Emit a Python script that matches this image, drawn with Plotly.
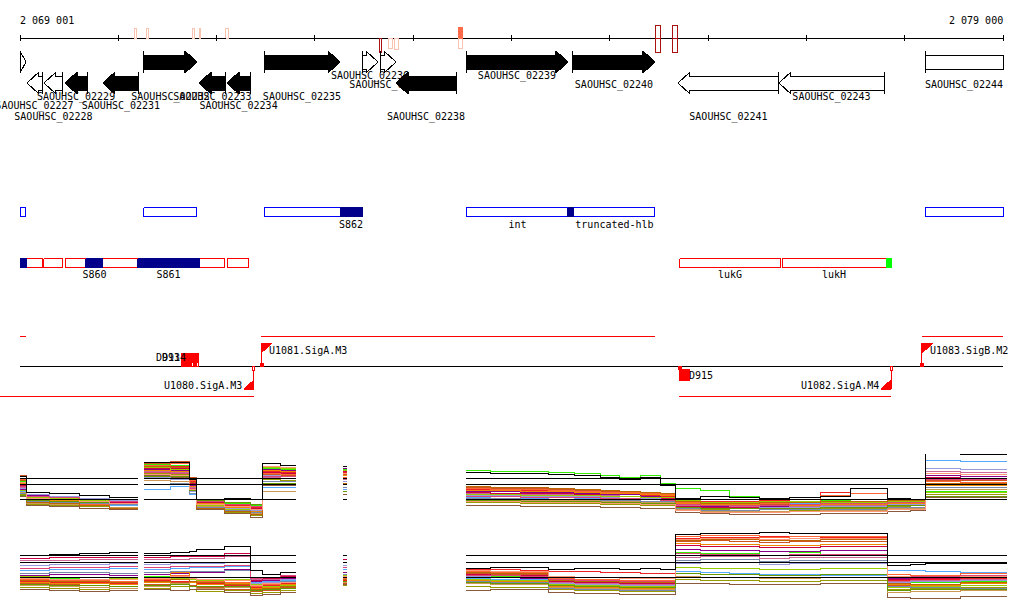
import plotly.graph_objects as go

# ---------------- view / scale ----------------
VIEW_START = 2069001
VIEW_END = 2079000
BP_PER_PX = (VIEW_END - VIEW_START) / 983.0
X_MIN = VIEW_START - 20 * BP_PER_PX
X_MAX = VIEW_START + 1004 * BP_PER_PX

AXIS_TICKS = [2069001, 2070000, 2071000, 2072000, 2073000, 2074000,
              2075000, 2076000, 2077000, 2078000, 2079000]
AXIS_LABELS = ["2 069 001", "2 079 000"]

# ---------------- genes ----------------
gene_name = ["", "SAOUHSC_02227", "SAOUHSC_02228", "SAOUHSC_02229", "SAOUHSC_02231",
             "SAOUHSC_02232", "SAOUHSC_02233", "SAOUHSC_02234", "SAOUHSC_02235",
             "SAOUHSC_02236", "SAOUHSC_02237", "SAOUHSC_02238", "SAOUHSC_02239",
             "SAOUHSC_02240", "SAOUHSC_02241", "SAOUHSC_02243", "SAOUHSC_02244"]
gene_start = [2069001, 2069072, 2069245, 2069459, 2069845, 2070262, 2070822, 2071107,
              2071483, 2072480, 2072673, 2072826, 2073538, 2074626, 2075694, 2076721, 2078207]
gene_end = [2069062, 2069225, 2069438, 2069683, 2070211, 2070801, 2071096, 2071341,
            2072256, 2072643, 2072826, 2073436, 2074575, 2075460, 2076721, 2077790, 2079400]
gene_strand = [1, -1, -1, -1, -1, 1, -1, -1, 1, 1, 1, -1, 1, 1, -1, -1, 1]
gene_black = [0, 0, 0, 1, 1, 1, 1, 1, 1, 0, 0, 1, 1, 1, 0, 0, 0]
gene_label_tier = [0, 3, 4, 2, 3, 2, 2, 3, 2, 0, 1, 4, 0, 1, 4, 2, 1]

# ---------------- marks on the coordinate axis ----------------
mark_start = [2070161, 2070283, 2070751, 2070822, 2071096, 2072653, 2072754, 2072815,
              2073466, 2073466, 2075470, 2075470, 2075643, 2075643]
mark_end = [2070191, 2070303, 2070771, 2070842, 2071117, 2072683, 2072785, 2072846,
            2073507, 2073497, 2075511, 2075511, 2075694, 2075694]
mark_strand = [1, 1, 1, 1, 1, -1, -1, -1, 1, -1, 1, -1, 1, -1]
mark_score = [10, 10, 10, 10, 10, 14, 10, 11, 11, 10, 13, 14, 13, 14]
mark_level = [0, 0, 0, 0, 0, 2, 0, 0, 1, 0, 2, 2, 2, 2]

# ---------------- forward (blue) feature track ----------------
fwd_start = [2069001, 2070262, 2071483, 2072256, 2073538, 2074575, 2074636, 2078207]
fwd_end = [2069052, 2070801, 2072256, 2072480, 2074585, 2074636, 2075460, 2079000]
fwd_kind = ["open", "open", "open", "srna", "open", "srna", "open", "open"]
fwd_label = ["", "", "", "S862", "int", "", "truncated-hlb", ""]

# ---------------- reverse (red) feature track ----------------
rev_start = [2069001, 2069072, 2069245, 2069459, 2069672, 2069845, 2070201, 2070822,
             2071107, 2075714, 2076752, 2077810]
rev_end = [2069072, 2069225, 2069438, 2069672, 2069845, 2070201, 2070822, 2071086,
           2071330, 2076732, 2077810, 2077861]
rev_kind = ["srna", "open", "open", "open", "srna", "open", "srna", "open",
            "open", "open", "open", "green"]
rev_label = ["", "", "", "", "S860", "", "S861", "", "", "lukG", "lukH", ""]

# ---------------- transcription units ----------------
tx_start = [2069001, 2071453, 2078176, 2068798, 2075704]
tx_end = [2069062, 2075460, 2079000, 2071381, 2077861]
tx_strand = [1, 1, 1, -1, -1]

prom_name = ["U1080.SigA.M3", "U1081.SigA.M3", "U1082.SigA.M4", "U1083.SigB.M2"]
prom_pos = [2071381, 2071453, 2077861, 2078176]
prom_strand = [-1, 1, -1, 1]

site_name = ["D913", "D914", "D915"]
site_start = [2070639, 2070700, 2075714]
site_end = [2070761, 2070812, 2075816]
site_strand = [1, 1, -1]

# ---------------- expression profiles ----------------
EXPR_X_A = [2069001, 2069072, 2069306, 2069611, 2069916, 2070201]
EXPR_X_B = [2070262, 2070527, 2070730, 2070801, 2071086, 2071341, 2071463, 2071646, 2071808]
EXPR_X_C = [2072287, 2072327]
EXPR_X_D = [2073538, 2073782, 2074087, 2074372, 2074646, 2074901, 2075104, 2075308,
            2075511, 2075664, 2075918, 2076223, 2076528, 2076833, 2077139, 2077444,
            2077830, 2078054, 2078207, 2078563, 2079041]

REF_TOP = [0, 15, 21]
REF_BOT = [0, 15, 22]

series_color = ["#33ee00", "#ee2222", "#cc5522", "#880088", "#cc6699", "#55aaff",
                "#999900", "#8b5a3c", "#cc0044", "#ff6633", "#9999dd", "#cc9955",
                "#ee8800", "#99cc00", "#7788aa", "#dd4477", "#bb6600", "#669900",
                "#ff9977", "#000000"]

# top panel (values in track units above the lowest reference line)
t_lime = [18, 3, 2, 0, -2, -2, 35, 34, 20, -2, -4, -6, 31, 30, 30, 30, 30,
          29, 28, 28, 27, 26, 24, 22, 24, 16, 11, 9, 3, 1, 0, -1, 0, -1, -2, 8, 8, 8]
t_red = [15, 1, -1, -3, -5, -5, 33, 33, 18, -3, -6, -8, 28, 27, 27, 27, 27,
         10, 9, 9, 8, 7, 6, 5, 4, 3, -3, -2, -2, -1, 0, 7, 11, -1, -2, 16, 15, 15]
t_choc = [24, -2, -3, -5, -8, -8, 36, 38, 22, -5, -10, -14, 25, 24, 24, 25, 25,
          12, 11, 11, 10, 9, 8, 7, 5, 4, -4, -6, -5, -5, -4, -3, -4, -3, -3, 19, 19, 19]
t_purple = [10, 4, 3, 1, -1, -1, 30, 29, 14, -4, -8, -10, 30, 29, 29, 31, 31,
            8, 8, 7, 7, 6, 5, 5, 3, 2, -5, -7, -6, -7, -6, -5, -5, -4, -4, 24, 23, 23]
t_pink = [12, 0, -1, -3, -6, -6, 28, 27, 12, -6, -9, -12, 22, 21, 21, 20, 20,
          6, 6, 5, 5, 4, 4, 3, 2, 1, -6, -8, -7, -8, -7, -6, -6, -5, -5, 28, 27, 27]
t_lblue = [8, -3, -3, -4, -6, -6, 10, 13, 5, -7, -8, -9, 12, 12, 12, 10, 10,
           2, 1, 1, 0, 1, -1, -1, -2, -2, -2, -4, -3, -3, -4, -3, -3, -2, -2, 39, 38, 38]
t_olive = [5, -5, -6, -7, -9, -9, 26, 25, 10, -9, -13, -16, 20, 19, 19, 15, 15,
           -3, -3, -4, -4, -4, -5, -5, -6, -6, -9, -10, -11, -10, -11, -9, -9, -7, -8, 5, 5, 5]
t_brown = [3, -6, -7, -9, -10, -10, 24, 22, 8, -10, -14, -18, 14, 14, 14, 5, 5,
           -6, -6, -7, -7, -7, -8, -8, -9, -9, -13, -14, -15, -15, -15, -14, -14, -12, -11, 2, 2, 2]
t_crimson = [14, 2, 1, -1, -3, -3, 31, 31, 16, -3, -7, -9, 27, 26, 26, 28, 28,
             7, 6, 6, 6, 5, 3, 3, 2, 1, -7, -8, -8, -9, -9, -8, -8, -6, -6, 22, 21, 21]
t_salmon = [20, -1, -2, -5, -8, -8, 34, 36, 19, -8, -11, -15, 26, 25, 25, 22, 22,
            11, 10, 10, 9, 8, 7, 7, 6, 5, -3, -5, -5, -4, -3, 4, 6, -3, -3, 18, 17, 17]
t_lav = [11, 5, 3, 1, -1, -1, 22, 20, 8, -5, -9, -11, 24, 23, 23, 18, 18,
         4, 4, 3, 3, 3, 2, 1, 1, 0, -8, -9, -9, -8, -8, -7, -7, -5, -5, 31, 30, 30]
t_tan = [7, -4, -5, -6, -8, -8, 19, 18, 6, -7, -12, -14, 8, 8, 8, 0, 0,
         0, 0, -1, -1, -1, -2, -2, -3, -3, -10, -12, -12, -12, -12, -11, -11, -9, -9, 10, 10, 10]
t_orange = [16, 0, -1, -2, -4, -4, 29, 28, 13, -4, -8, -12, 29, 28, 28, 24, 24,
            9, 9, 8, 8, 7, 6, 6, 5, 4, -4, -5, -5, -6, -6, -5, -5, -4, -4, 14, 14, 14]
t_ygreen = [9, 2, 1, -1, -2, -2, 32, 30, 15, -6, -10, -13, 32, 31, 31, 29, 29,
            5, 5, 4, 4, 4, 3, 3, 2, 2, -1, -3, -3, -2, -2, -3, -3, -2, -2, 7, 7, 7]
t_gray = [6, -2, -3, -4, -5, -5, 15, 16, 6, -8, -11, -13, 18, 18, 18, 12, 12,
          1, 1, 0, 0, 0, -1, -1, -2, -2, -9, -11, -11, -10, -10, -10, -10, -8, -8, 12, 12, 12]
t_magenta = [13, 3, 2, 0, -2, -2, 27, 26, 11, -2, -5, -7, 23, 23, 23, 21, 21,
             3, 3, 2, 2, 2, 1, 1, 0, -1, -5, -6, -6, -6, -5, -4, -4, -3, -3, 20, 20, 20]
t_dkorange = [19, -3, -4, -6, -9, -9, 33, 32, 17, -9, -12, -15, 21, 21, 21, 16, 16,
              13, 12, 12, 11, 10, 9, 8, 7, 6, -2, -4, -4, -3, -3, -2, -2, -1, -1, 16, 16, 16]
t_green2 = [4, -1, -2, -3, -4, -4, 23, 23, 9, -1, -3, -5, 16, 16, 16, 8, 8,
            -1, -1, -2, -2, -2, -3, -3, -4, -4, -8, -9, -9, -9, -9, -8, -8, -6, -6, 3, 3, 3]
t_peach = [17, 1, 0, -2, -4, -4, 25, 24, 10, -5, -7, -10, 33, 32, 32, 26, 26,
           -2, -2, -3, -3, -3, -4, -4, -5, -5, -11, -13, -13, -13, -12, -12, -12, -10, -10, 26, 25, 25]
t_black = [23, 7, 6, 4, 2, 2, 37, 37, 20, 0, 1, 0, 36, 34, 34, 33, 33,
           27, 26, 26, 25, 24, 22, 20, 22, 14, 1, 3, 2, 1, 2, 3, 11, 1, 0, 46, 45, 45]

# bottom panel
b_lime = [0, 0, -1, -2, -1, -1, 1, 0, -1, -2, -3, -6, -6, -4, -4, 0, 0,
          2, 1, 1, -4, -5, -6, -7, -7, -8, 25, 24, 24, 26, 25, 23, 22, -6, -5, -5, -4, -4]
b_red = [-4, -4, -5, -5, -6, -6, -3, -4, -5, -6, -8, -10, -8, -6, -6, -3, -3,
         8, 8, 7, 6, 6, 5, 5, 4, 4, 39, 40, 40, 41, 41, 40, 40, -3, -2, -2, -1, -1]
b_choc = [-6, -6, -7, -8, -9, -9, -7, -5, -8, -10, -12, -14, -13, -10, -10, -6, -6,
          4, 3, 3, -8, -9, -9, -10, -10, -10, 36, 37, 36, 35, 36, 36, 36, -8, -9, -9, -8, -8]
b_purple = [2, 2, 3, 3, 2, 2, 3, 4, 5, 5, 8, -4, -3, -1, -1, 5, 5,
            0, 0, -1, -3, -4, -4, -5, -5, -5, 28, 27, 27, 26, 26, 27, 27, -1, 0, 0, 1, 1]
b_pink = [17, 17, 17, 18, 18, 18, 18, 18, 19, 19, 21, -2, -2, 0, 0, 15, 15,
          5, 4, 4, -5, -6, -6, -7, -7, -7, 20, 21, 21, 19, 20, 20, 20, -4, -3, -3, -2, -2]
b_lblue = [7, 7, 8, 8, 9, 9, 8, 9, 10, 10, 11, -5, -4, -3, -3, 8, 8,
           -1, -2, -2, -2, -3, -3, -4, -4, -4, 6, 5, 4, 3, 3, 2, 2, 7, 7, 6, 5, 5]
b_olive = [-10, -10, -11, -12, -13, -13, -11, -9, -12, -14, -13, -16, -15, -13, -13, -8, -8,
           -9, -10, -10, -12, -13, -13, -14, -14, -14, -2, -3, -3, -4, -4, -3, -3, -12, -11, -11, -10, -10]
b_brown = [-12, -12, -13, -14, -13, -13, -12, -13, -12, -12, -15, -18, -17, -15, -15, -7, -7,
           -13, -12, -12, -15, -16, -16, -17, -17, -17, -6, -6, -7, -7, -7, -6, -6, -20, -21, -21, -19, -19]
b_crimson = [19, 19, 20, 20, 20, 20, 20, 21, 21, 21, 24, -3, -1, 1, 1, 18, 18,
             3, 2, 2, -4, -5, -5, -6, -6, -6, 32, 31, 31, 30, 30, 31, 31, -2, -1, -1, 0, 0]
b_salmon = [-2, -2, -3, -3, -4, -4, -2, 2, -2, -4, -5, -9, -7, -5, -5, -1, -1,
            6, 5, 5, -1, -2, -2, -3, -3, -3, 41, 42, 42, 40, 41, 41, 41, 3, 2, 2, 4, 4]
b_lav = [12, 12, 13, 13, 14, 14, 13, 14, 14, 14, 15, -6, -5, -2, -2, 12, 12,
         1, 0, 0, -6, -7, -7, -8, -8, -8, 14, 15, 15, 13, 14, 14, 14, -5, -4, -4, -3, -3]
b_tan = [-8, -8, -9, -10, -11, -11, -9, -6, -9, -11, -10, -12, -11, -9, -9, -5, -5,
         -6, -7, -7, -10, -11, -11, -12, -12, -12, 1, 0, 0, -1, -1, 0, 0, -15, -14, -14, -13, -13]
b_orange = [-5, -5, -6, -6, -7, -7, -5, 5, -5, -7, -6, -11, -10, -7, -7, -4, -4,
            -3, -4, -4, -9, -10, -10, -11, -11, -11, 34, 33, 33, 32, 32, 33, 33, -7, -8, -8, -6, -6]
b_ygreen = [1, 1, 0, 0, -1, -1, 0, -1, -2, -3, -2, -7, -9, -8, -8, 2, 2,
            -2, -3, -3, -7, -8, -8, -9, -9, -9, 10, 9, 9, 8, 8, 9, 9, -10, -9, -9, -8, -8]
b_gray = [4, 4, 5, 5, 4, 4, 5, 6, 6, 6, 7, -8, -6, -4, -4, 3, 3,
          -4, -5, -5, -11, -12, -12, -13, -13, -13, 17, 18, 18, 16, 17, 17, 17, -9, -10, -10, -11, -11]
b_magenta = [9, 9, 10, 10, 11, 11, 10, 11, 11, 11, 12, -1, 0, 2, 2, 10, 10,
             2, 2, 1, -2, -3, -3, -4, -4, -4, 24, 23, 23, 22, 23, 23, 23, 0, 1, 1, 2, 2]
b_dkorange = [-3, -3, -4, -4, -5, -5, -4, -2, -4, -5, -7, -12, -11, -9, -9, -2, -2,
              5, 4, 4, -3, -4, -4, -5, -5, -5, 37, 38, 38, 37, 37, 38, 38, -6, -7, -7, -5, -5]
b_green2 = [-7, -7, -8, -8, -9, -9, -8, -7, -9, -9, -9, -13, -12, -11, -11, -4, -4,
            -5, -6, -6, -8, -9, -9, -10, -10, -10, 4, 3, 3, 2, 2, 3, 3, -13, -12, -12, -12, -12]
b_peach = [-1, -1, -2, -2, -2, -2, -1, 1, -1, -2, -3, -8, -6, -5, -5, 1, 1,
           7, 6, 6, 1, 0, 0, -1, -1, -1, 38, 39, 39, 38, 39, 39, 39, 1, 0, 0, 1, 1]
b_black = [22, 22, 23, 24, 25, 25, 24, 25, 26, 28, 31, 7, 3, 5, 5, 22, 22,
           9, 10, 10, 8, 9, 9, 8, 9, 8, 43, 44, 44, 45, 44, 44, 44, 12, 13, 14, 14, 14]

TOP_SERIES = [t_lime, t_red, t_choc, t_purple, t_pink, t_lblue, t_olive, t_brown,
              t_crimson, t_salmon, t_lav, t_tan, t_orange, t_ygreen, t_gray,
              t_magenta, t_dkorange, t_green2, t_peach, t_black]
BOT_SERIES = [b_lime, b_red, b_choc, b_purple, b_pink, b_lblue, b_olive, b_brown,
              b_crimson, b_salmon, b_lav, b_tan, b_orange, b_ygreen, b_gray,
              b_magenta, b_dkorange, b_green2, b_peach, b_black]

# ---------------- styling constants ----------------
FONT = "DejaVu Sans Mono"
FSIZE = 10
LABEL_TIER_Y = [76, 85, 97.5, 106.5, 117.5]
FWD_ROW = (51, 55, 69, 73)   # head top, shaft top, shaft bottom, head bottom
REV_ROW = (72, 76, 90, 94)
HEAD_BP = 12 * BP_PER_PX
MARK_COLORS = ["#f8c4b0", "#ff6a4a", "#aa1111"]


def bp(npx):
    return npx * BP_PER_PX


fig = go.Figure()


def add_polys(polys, fill, line, width=1, yaxis="y"):
    xs, ys = [], []
    for px, py in polys:
        if xs:
            xs.append(None)
            ys.append(None)
        xs += list(px)
        ys += list(py)
    fig.add_trace(go.Scatter(x=xs, y=ys, mode="lines", fill="toself", fillcolor=fill,
                             line=dict(color=line, width=width), hoverinfo="skip",
                             showlegend=False, yaxis=yaxis))


def add_segments(segs, color, width=1, yaxis="y", shape="linear"):
    xs, ys = [], []
    for px, py in segs:
        if xs:
            xs.append(None)
            ys.append(None)
        xs += list(px)
        ys += list(py)
    fig.add_trace(go.Scatter(x=xs, y=ys, mode="lines", line=dict(color=color, width=width, shape=shape),
                             hoverinfo="skip", showlegend=False, yaxis=yaxis, connectgaps=False))


def rect(x0, x1, y0, y1):
    return ([x0, x1, x1, x0, x0], [y0, y0, y1, y1, y0])


def add_center_text(xs, ys, texts, color="black"):
    fig.add_trace(go.Scatter(x=xs, y=ys, text=texts, mode="text", textposition="middle center",
                             textfont=dict(family=FONT, size=FSIZE, color=color),
                             hoverinfo="skip", showlegend=False))


def add_annot(x, y, text, anchor):
    fig.add_annotation(x=x, y=y, xref="x", yref="y", text=text, showarrow=False,
                       xanchor=anchor, yanchor="middle", borderpad=0,
                       font=dict(family=FONT, size=FSIZE, color="black"))


# ---------------- coordinate axis ----------------
add_segments([([VIEW_START, VIEW_END], [38, 38])] +
             [([t, t], [35, 41]) for t in AXIS_TICKS], "black")
add_annot(VIEW_START - bp(1), 20.5, AXIS_LABELS[0], "left")
add_annot(VIEW_END + bp(1), 20.5, AXIS_LABELS[1], "right")

for lvl in range(3):
    polys = []
    for s, e, st, sc, lv in zip(mark_start, mark_end, mark_strand, mark_score, mark_level):
        if lv != lvl:
            continue
        polys.append(rect(s, e, 38, 38 - st * sc))
    if polys:
        fill = MARK_COLORS[lvl] if lvl == 1 else "rgba(255,255,255,0)"
        add_polys(polys, fill, MARK_COLORS[lvl], 1)

# ---------------- gene labels (drawn below gene glyphs) ----------------
lx, ly, lt = [], [], []
for name, s, e, tier in zip(gene_name, gene_start, gene_end, gene_label_tier):
    if not name:
        continue
    lx.append((s + min(e, VIEW_END)) / 2)
    ly.append(LABEL_TIER_Y[tier])
    lt.append(name)
add_center_text(lx, ly, lt)

# ---------------- gene glyphs ----------------
open_polys, black_polys, bars = [], [], []
for s, e, strand, blk in zip(gene_start, gene_end, gene_strand, gene_black):
    ht, st, sb, hb = FWD_ROW if strand == 1 else REV_ROW
    mid = (ht + hb) / 2
    h = min(HEAD_BP, e - s)
    if strand == 1:
        if e > VIEW_END:
            poly = rect(s, VIEW_END, st, sb)
        else:
            poly = ([s, e - h, e - h, e, e - h, e - h, s, s],
                    [st, st, ht, mid, hb, sb, sb, st])
        bars.append(([s, s], [ht, hb]))
    else:
        poly = ([e, s + h, s + h, s, s + h, s + h, e, e],
                [st, st, ht, mid, hb, sb, sb, st])
        bars.append(([e, e], [ht, hb]))
    (black_polys if blk else open_polys).append(poly)
add_polys(open_polys, "white", "black")
add_polys(black_polys, "black", "black")
add_segments(bars, "black")


# ---------------- feature tracks ----------------
def feature_track(starts, ends, kinds, labels, y0, y1, outline, label_y):
    opens = [rect(s, e, y0, y1) for s, e, k in zip(starts, ends, kinds) if k == "open"]
    srnas = [rect(s, e, y0, y1) for s, e, k in zip(starts, ends, kinds) if k == "srna"]
    greens = [rect(s, e, y0, y1) for s, e, k in zip(starts, ends, kinds) if k == "green"]
    if opens:
        add_polys(opens, "white", outline)
    if srnas:
        add_polys(srnas, "#00008b", "#00008b")
    if greens:
        add_polys(greens, "#00ff00", "#00ff00")
    tx, ty, tt = [], [], []
    for s, e, lab in zip(starts, ends, labels):
        if lab:
            tx.append((s + e) / 2)
            ty.append(label_y)
            tt.append(lab)
    add_center_text(tx, ty, tt)


feature_track(fwd_start, fwd_end, fwd_kind, fwd_label, 207.5, 216.5, "#0000ff", 225)
feature_track(rev_start, rev_end, rev_kind, rev_label, 258.5, 267.5, "#ff0000", 275.5)

# ---------------- transcription track ----------------
LINE_Y = 366
add_segments([([VIEW_START, VIEW_END], [LINE_Y, LINE_Y])], "black")
add_segments([([s, e], [336 if st == 1 else 396] * 2) for s, e, st in zip(tx_start, tx_end, tx_strand)],
             "#ff0000")

site_polys, tiny_open, tiny_fill = [], [], []
for name, s, e, st in zip(site_name, site_start, site_end, site_strand):
    if st == 1:
        site_polys.append(rect(s, e, LINE_Y - 13, LINE_Y))
        tiny_open.append(rect(e - bp(2), e, LINE_Y - 4, LINE_Y))
        add_annot(s, 357, name, "right")
    else:
        site_polys.append(rect(s, e, LINE_Y + 3, LINE_Y + 14))
        tiny_fill.append(rect(s - bp(1), s + bp(2), LINE_Y, LINE_Y + 3))
        add_annot(s + bp(8), 375.5, name, "left")
add_polys(site_polys, "#ff0000", "#ff0000")

prom_lines, prom_tris = [], []
for name, p, st in zip(prom_name, prom_pos, prom_strand):
    if st == 1:
        prom_lines.append(([p, p], [LINE_Y, 343]))
        prom_tris.append(([p, p + bp(11), p, p], [343, 343, 353, 343]))
        tiny_fill.append(rect(p - bp(1), p + bp(2), LINE_Y - 3, LINE_Y))
        add_annot(p + bp(7), 350.5, name, "left")
    else:
        prom_lines.append(([p, p], [LINE_Y, 389]))
        prom_tris.append(([p, p - bp(10), p, p], [389, 389, 380, 389]))
        tiny_open.append(rect(p - bp(1), p + bp(1), LINE_Y, LINE_Y + 4))
        add_annot(p - bp(11), 385, name, "right")
add_segments(prom_lines, "#ff0000")
add_polys(prom_tris, "#ff0000", "#ff0000")
add_polys(tiny_open, "white", "#ff0000")
add_polys(tiny_fill, "#ff0000", "#ff0000")

# ---------------- expression panels ----------------
REGIONS = [EXPR_X_A, EXPR_X_B, EXPR_X_C, EXPR_X_D]


def with_gaps(vals):
    out, i = [], 0
    for k, rx in enumerate(REGIONS):
        if k:
            out.append(None)
        out.extend(vals[i:i + len(rx)])
        i += len(rx)
    return out


X_ALL = with_gaps([x for rx in REGIONS for x in rx])

for series_list, refs, axis in ((TOP_SERIES, REF_TOP, "y2"), (BOT_SERIES, REF_BOT, "y3")):
    for vals, col in zip(series_list, series_color):
        fig.add_trace(go.Scatter(x=X_ALL, y=with_gaps(vals), mode="lines",
                                 line=dict(color=col, width=1, shape="hv"),
                                 connectgaps=False, hoverinfo="skip", showlegend=False, yaxis=axis))
    segs = []
    for lvl in refs:
        for rx in REGIONS:
            segs.append(([rx[0], rx[-1]], [lvl, lvl]))
    add_segments(segs, "black", 1, axis)

# ---------------- layout ----------------
fig.update_layout(
    width=1024, height=611,
    margin=dict(l=0, r=0, t=0, b=0),
    paper_bgcolor="white", plot_bgcolor="rgba(0,0,0,0)",
    showlegend=False,
    xaxis=dict(range=[X_MIN, X_MAX], visible=False, domain=[0, 1], anchor="y"),
    yaxis=dict(range=[611, 0], visible=False, domain=[0, 1], anchor="x"),
    yaxis2=dict(range=[-27, 45], visible=False, domain=[1 - 526 / 611, 1 - 454 / 611], anchor="x"),
    yaxis3=dict(range=[-27, 45], visible=False, domain=[1 - 604 / 611, 1 - 532 / 611], anchor="x"),
)

CRISP_JS = (
    "document.body.style.margin='0';"
    "var st=document.createElement('style');"
    "st.innerHTML='.js-line,.js-fill{shape-rendering:crispEdges;}';"
    "document.head.appendChild(st);"
)
fig.write_html("out.html", config={"displayModeBar": False}, post_script=CRISP_JS)
